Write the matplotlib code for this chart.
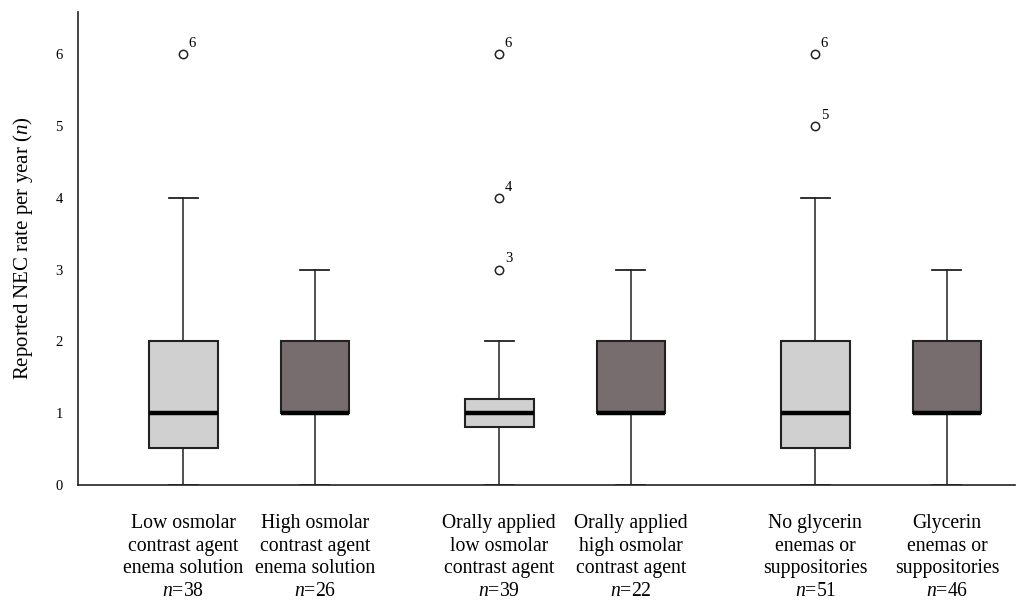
import matplotlib
matplotlib.use("Agg")
import matplotlib.pyplot as plt

plt.rcParams["font.family"] = ["Liberation Serif", "DejaVu Serif"]
plt.rcParams["mathtext.fontset"] = "custom"
plt.rcParams["mathtext.rm"] = "Liberation Serif"
plt.rcParams["mathtext.it"] = "Liberation Serif:italic"

# data
groups = [
    "Low osmolar\ncontrast agent\nenema solution",
    "High osmolar\ncontrast agent\nenema solution",
    "Orally applied\nlow osmolar\ncontrast agent",
    "Orally applied\nhigh osmolar\ncontrast agent",
    "No glycerin\nenemas or\nsuppositories",
    "Glycerin\nenemas or\nsuppositories",
]
n_sizes = [38, 26, 39, 22, 51, 46]
whisker_lo = [0, 0, 0, 0, 0, 0]
q1 = [0.52, 1.0, 0.80, 1.0, 0.52, 1.0]
medians = [1, 1, 1, 1, 1, 1]
q3 = [2, 2, 1.2, 2, 2, 2]
whisker_hi = [4, 3, 2, 3, 4, 3]
outliers = [[6], [], [3, 4, 6], [], [5, 6], []]
outlier_labels = [["6"], [], ["3", "4", "6"], [], ["5", "6"], []]

positions = [1, 2, 3.4, 4.4, 5.8, 6.8]
face_colors = ["#d0d0d0", "#776d6e"] * 3

stats = []
for i in range(len(groups)):
    stats.append({
        "whislo": whisker_lo[i], "q1": q1[i], "med": medians[i],
        "q3": q3[i], "whishi": whisker_hi[i], "fliers": outliers[i],
    })

fig = plt.figure(figsize=(10.19, 6.06), dpi=100)
ax = fig.add_axes([0.0765, 0.2, 0.92, 0.78])

bp = ax.bxp(
    stats, positions=positions, widths=0.52, patch_artist=True,
    boxprops=dict(edgecolor="#222222", linewidth=1.5),
    medianprops=dict(color="black", linewidth=3.2, solid_capstyle="butt"),
    whiskerprops=dict(color="#222222", linewidth=1.1),
    capprops=dict(color="#222222", linewidth=1.3),
    capwidths=0.22,
    flierprops=dict(marker="o", markersize=6, markerfacecolor="white",
                    markeredgecolor="#222222", markeredgewidth=1.1),
)
for patch, fc in zip(bp["boxes"], face_colors):
    patch.set_facecolor(fc)

for x, ys, labs in zip(positions, outliers, outlier_labels):
    for y, lab in zip(ys, labs):
        ax.annotate(lab, (x, y), xytext=(4, 3), textcoords="offset points",
                    fontsize=10.5, ha="left", va="bottom")

ax.set_xlim(0.2, 7.32)
ax.set_ylim(0, 6.59)
ax.set_yticks(range(7))
ax.tick_params(axis="y", length=0, pad=11, labelsize=10.5)
ax.set_xticks(positions)
ax.set_xticklabels([f"{g}\n$\\it{{n}}$={n}" for g, n in zip(groups, n_sizes)],
                   fontsize=14.2, linespacing=1.26)
ax.tick_params(axis="x", length=0, pad=21)
ax.set_ylabel("Reported NEC rate per year ($\\it{n}$)", fontsize=15)
ax.yaxis.set_label_coords(-0.046, 0.5)

for s in ("top", "right"):
    ax.spines[s].set_visible(False)
for s in ("left", "bottom"):
    ax.spines[s].set_linewidth(1.2)
    ax.spines[s].set_color("#222222")

fig.savefig("out.png", dpi=100)
